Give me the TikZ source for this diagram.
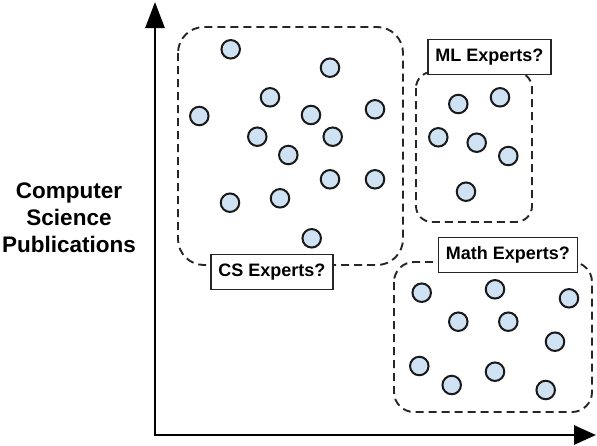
\documentclass[tikz,border=0pt]{standalone}
\usepackage{fontspec}
\setmainfont{Liberation Sans}
\usetikzlibrary{arrows.meta}
\definecolor{dotblue}{HTML}{CFE2F3}

\begin{document}
\begin{tikzpicture}[x=1pt,y=-1pt,
    dot/.style={circle,draw=black!90,line width=2pt,fill=dotblue,minimum size=18.5pt,inner sep=0pt},
    group/.style={draw=black!85,line width=1.9pt,dash pattern=on 8pt off 5pt},
    tag/.style={draw=black!85,line width=1.6pt,fill=white,inner xsep=7.5pt,minimum height=35pt,
      font=\bfseries\fontsize{18}{20}\selectfont},
    axis/.style={line width=2.8pt,{Triangle[length=26pt,width=19pt]}-{Triangle[length=22pt,width=19pt]}}]
      \useasboundingbox (0, 0) rectangle (597, 445);
      \coordinate (ytip) at (155, 2);
      \coordinate (origin) at (155, 435);
      \coordinate (xtip) at (596, 435);
      \draw[axis] (ytip) -- (origin) -- (xtip);
      \node[align=center, font=\bfseries\fontsize{22.5}{27}\selectfont] (ylabel) at (69, 218) {Computer\\Science\\Publications};
      % groups
      \draw[group, rounded corners=26] (178, 27) rectangle (403, 265);
      \draw[group, rounded corners=16] (416, 72) rectangle (532, 222);
      \draw[group, rounded corners=20] (394, 262) rectangle (592, 412);
      \node[tag] (cs) at (272, 272) {CS Experts?};
      \node[tag] (ml) at (489.5, 57) {ML Experts?};
      \node[tag] (math) at (508, 255) {Math Experts?};
      % cs
      \node[dot] (c1) at (230.7, 49.3) {};
      \node[dot] (c2) at (330, 67.7) {};
      \node[dot] (c3) at (270, 97.3) {};
      \node[dot] (c4) at (199.3, 116) {};
      \node[dot] (c5) at (311, 115) {};
      \node[dot] (c6) at (375, 109.3) {};
      \node[dot] (c7) at (257.3, 136.7) {};
      \node[dot] (c8) at (332.7, 136.7) {};
      \node[dot] (c9) at (288.3, 155) {};
      \node[dot] (c10) at (330, 179.3) {};
      \node[dot] (c11) at (375, 179.3) {};
      \node[dot] (c12) at (230, 202.7) {};
      \node[dot] (c13) at (280, 198.3) {};
      \node[dot] (c14) at (311.7, 238.3) {};
      % ml
      \node[dot] (l1) at (458.3, 104) {};
      \node[dot] (l2) at (500, 97.3) {};
      \node[dot] (l3) at (438.3, 137.3) {};
      \node[dot] (l4) at (476.7, 142.7) {};
      \node[dot] (l5) at (508.3, 156) {};
      \node[dot] (l6) at (466, 191.7) {};
      % math
      \node[dot] (m1) at (421.7, 292.7) {};
      \node[dot] (m2) at (495, 289.3) {};
      \node[dot] (m3) at (569, 298.3) {};
      \node[dot] (m4) at (458.3, 321.7) {};
      \node[dot] (m5) at (508.3, 321.7) {};
      \node[dot] (m6) at (555, 341.7) {};
      \node[dot] (m7) at (419.3, 366) {};
      \node[dot] (m8) at (451.7, 385) {};
      \node[dot] (m9) at (495, 371.7) {};
      \node[dot] (m10) at (545.7, 390) {};
\end{tikzpicture}
\end{document}
